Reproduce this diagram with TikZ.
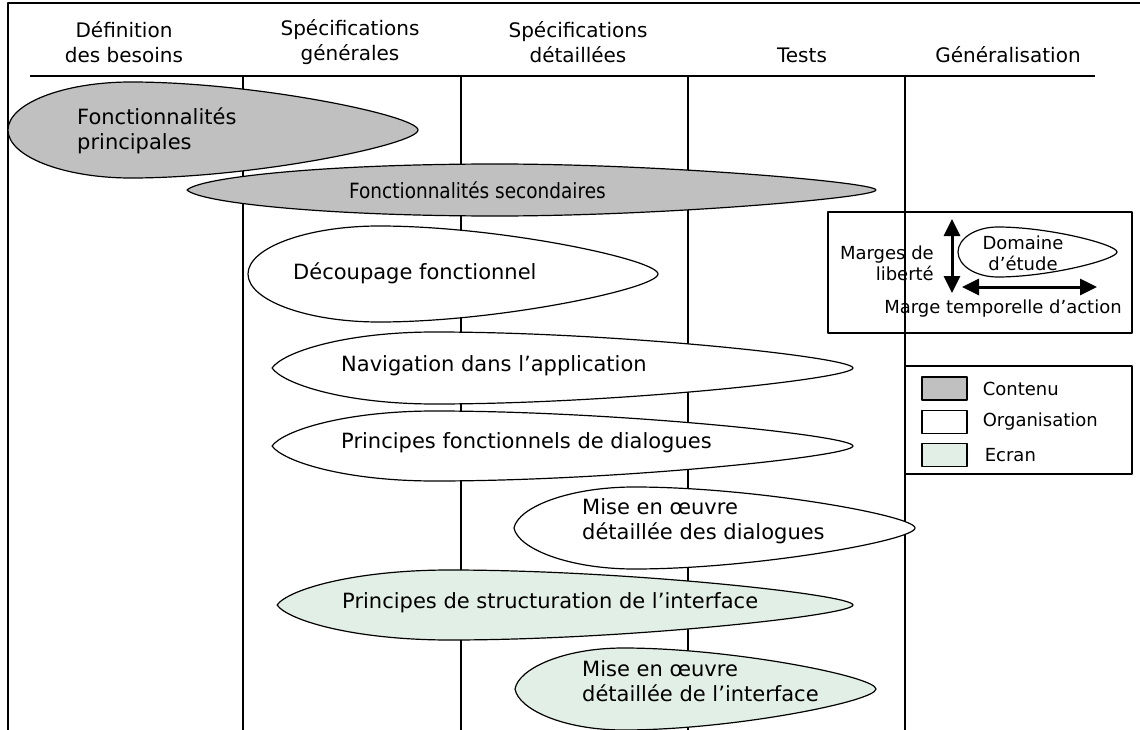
\documentclass[tikz,border=0pt]{standalone}
\usepackage{fontspec}
\setmainfont{DejaVu Sans}
\usetikzlibrary{positioning,arrows.meta}
\definecolor{gris}{RGB}{192,192,192}
\definecolor{vertpale}{RGB}{226,239,230}

% lobe: fill, x gauche, x droite, y centre, demi-hauteur, position du sommet, depart gauche (dx, dy)
\newcommand\lobe[8]{%
  \pgfmathsetmacro\lobeL{#3-#2}%
  \path[fill=#1, draw=black, line width=1.2pt] (#2,#4)
    .. controls ({#2+#7*\lobeL},{#4-#8*#5}) and ({#2+0.45*#6*\lobeL},{#4-#5}) .. ({#2+#6*\lobeL},{#4-#5})
    .. controls ({#2+(#6+0.43*(1-#6))*\lobeL},{#4-#5}) and (#3,{#4-0.3*#5}) .. (#3,#4)
    .. controls (#3,{#4+0.3*#5}) and ({#2+(#6+0.43*(1-#6))*\lobeL},{#4+#5}) .. ({#2+#6*\lobeL},{#4+#5})
    .. controls ({#2+0.45*#6*\lobeL},{#4+#5}) and ({#2+#7*\lobeL},{#4+#8*#5}) .. cycle;}

\begin{document}
\begin{tikzpicture}[x=1pt, y=-1pt, line join=round,
  txt/.style={font=\fontsize{21}{25}\selectfont, inner sep=0pt, align=left},
  tete/.style={font=\fontsize{20}{25}\selectfont, inner sep=0pt, align=center},
  cle/.style={font=\fontsize{18}{21}\selectfont, inner sep=0pt, align=left},
  trait/.style={line width=1.5pt},
  fleche/.style={line width=3pt, {Triangle[length=17pt,width=16pt]}-{Triangle[length=17pt,width=16pt]}},
  pastille/.style={draw, line width=1.2pt, minimum width=45pt, minimum height=23pt, inner sep=0pt}]
\useasboundingbox (0,0) rectangle (1140,730);

% cadre et phases
\draw[line width=2pt] (8,730) -- (8,3) -- (1140,3);
\node[tete] (def) at (124,42) {Définition\\des besoins};
\node[tete] (sgen) at (350,42) {Spécifications\\générales};
\node[tete] (sdet) at (578,42) {Spécifications\\détaillées};
\node[tete] (tests) at (802,55) {Tests};
\node[tete] (gene) at (1008,55) {Généralisation};
\draw[trait] (30,76) -- (1095,76);
\foreach \x in {243,461,688,905}
  \draw[trait] (\x,76) -- (\x,730);

% domaines d'etude
\lobe{gris}{8}{418}{130}{48}{0.3}{0}{0.55}
\node[txt, anchor=west] (fprinc) at (77,131) {Fonctionnalités\\principales};
\lobe{gris}{187}{876}{190}{26}{0.45}{0.02}{0.5}
\node[txt, anchor=west] (fsec) at (349,190) {\scalebox{0.88}[1]{Fonctionnalités secondaires}};
\lobe{white}{248}{658}{274}{48}{0.32}{0}{0.55}
\node[txt, anchor=west] (decoup) at (293,273) {Découpage fonctionnel};
\lobe{white}{272}{853}{368}{36}{0.28}{0.02}{0.45}
\node[txt, anchor=west] (navig) at (341,366) {Navigation dans l’application};
\lobe{white}{272}{853}{446}{35}{0.28}{0.02}{0.45}
\node[txt, anchor=west] (pdial) at (341,443) {Principes fonctionnels de dialogues};
\lobe{white}{514}{915}{528}{41}{0.3}{0.01}{0.5}
\node[txt, anchor=west] (mdial) at (582,521) {Mise en œuvre\\détaillée des dialogues};
\lobe{vertpale}{277}{853}{605}{35}{0.3}{0.02}{0.45}
\node[txt, anchor=west] (pstruc) at (342,603) {Principes de structuration de l’interface};
\lobe{vertpale}{515}{876}{689}{41}{0.3}{0.01}{0.5}
\node[txt, anchor=west] (minter) at (582,681) {Mise en œuvre\\détaillée de l’interface};

% cle de lecture
\draw[trait] (828,212) rectangle (1132,333);
\lobe{white}{958}{1117}{252}{25}{0.25}{0}{0.55}
\node[cle, align=center] (domaine) at (1023,253) {Domaine\\d’étude};
\node[cle, align=right, anchor=east] (marges) at (934,263) {Marges de\\liberté};
\coordinate (mhaut) at (952,219);
\coordinate (mbas) at (952,293);
\draw[fleche] (mhaut) -- (mbas);
\coordinate (tgauche) at (962,287);
\coordinate (tdroite) at (1097,287);
\draw[fleche] (tgauche) -- (tdroite);
\node[cle] (mtemp) at (1003,309) {Marge temporelle d’action};

% legende
\draw[trait] (905,366) rectangle (1132,474);
\node[pastille, fill=gris] (pcont) at (944.5,388.5) {};
\node[pastille, fill=white, below=9pt of pcont] (porga) {};
\node[pastille, fill=vertpale, below=9pt of porga] (pecran) {};
\node[cle, anchor=west, right=15pt of pcont] (lcont) {Contenu};
\node[cle, anchor=west, right=15pt of porga] (lorga) {Organisation};
\node[cle, anchor=west, right=17pt of pecran] (lecran) {Ecran};
\end{tikzpicture}
\end{document}
